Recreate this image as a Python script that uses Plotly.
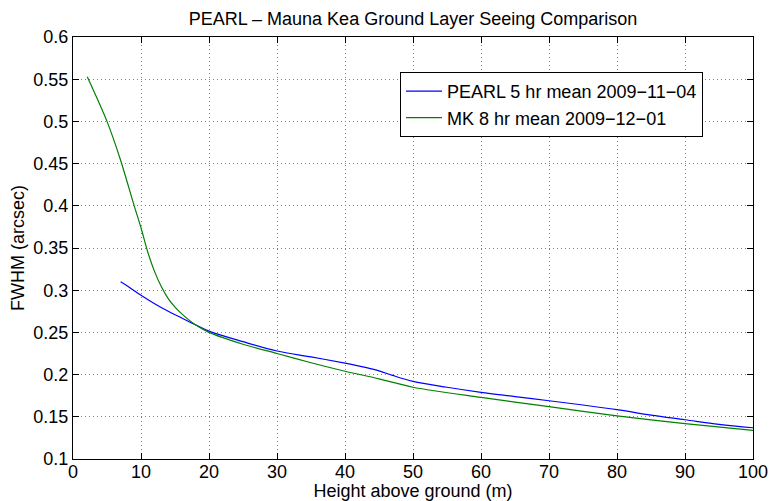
import plotly.graph_objects as go

# ---- data ----
pearl_x = [7, 8, 10, 12, 14, 16, 18, 20, 25, 30, 35, 40, 43, 45, 47, 50, 55, 60, 65, 70, 75, 80, 85, 90, 95, 100]
pearl_y = [0.310, 0.305, 0.294, 0.284, 0.275, 0.267, 0.259, 0.2515, 0.239, 0.228, 0.221, 0.2135, 0.2085, 0.2045,
           0.199, 0.192, 0.185, 0.179, 0.174, 0.169, 0.164, 0.1585, 0.152, 0.1465, 0.141, 0.137]

mk_x = [2.1, 3, 5, 7, 9, 10, 11, 12, 13, 14, 15, 16, 18, 20, 25, 30, 35, 40, 45, 50, 60, 70, 80, 90, 100]
mk_y = [0.553, 0.537, 0.500, 0.454, 0.400, 0.374, 0.345, 0.322, 0.304, 0.290, 0.280, 0.272, 0.259, 0.250,
        0.236, 0.225, 0.214, 0.204, 0.195, 0.185, 0.173, 0.162, 0.1512, 0.142, 0.134]

series_names = ["PEARL 5 hr mean 2009\u221211\u221204", "MK 8 hr mean 2009\u221212\u221201"]

x_ticks = [0, 10, 20, 30, 40, 50, 60, 70, 80, 90, 100]
x_tick_labels = ["0", "10", "20", "30", "40", "50", "60", "70", "80", "90", "100"]
y_ticks = [0.1, 0.15, 0.2, 0.25, 0.3, 0.35, 0.4, 0.45, 0.5, 0.55, 0.6]
y_tick_labels = ["0.1", "0.15", "0.2", "0.25", "0.3", "0.35", "0.4", "0.45", "0.5", "0.55", "0.6"]

FONT = "Liberation Sans, Arial, Helvetica, sans-serif"

fig = go.Figure()
fig.add_trace(go.Scatter(x=pearl_x, y=pearl_y, mode="lines", name=series_names[0],
                         line=dict(color="#0000ff", width=1.2, shape="spline", smoothing=1.0)))
fig.add_trace(go.Scatter(x=mk_x, y=mk_y, mode="lines", name=series_names[1],
                         line=dict(color="#008000", width=1.2, shape="spline", smoothing=0.8)))

axis_common = dict(
    showline=True, linecolor="black", linewidth=1, mirror="ticks",
    ticks="inside", ticklen=6, tickcolor="black", tickwidth=1,
    showgrid=True, gridcolor="#808080", griddash="1px,3px", gridwidth=1,
    zeroline=False, automargin=False,
    tickfont=dict(family=FONT, size=18, color="black"),
)

fig.update_layout(
    width=771, height=501,
    margin=dict(l=73, r=18, t=37, b=42, autoexpand=False),
    paper_bgcolor="white", plot_bgcolor="white",
    font=dict(family=FONT, size=18, color="black"),
    title=dict(text="PEARL \u2013 Mauna Kea Ground Layer Seeing Comparison",
               x=(73 + 753) / 2 / 771, xanchor="center",
               y=1 - 18.5 / 501, yanchor="middle", yref="container",
               font=dict(family=FONT, size=18, color="black")),
    xaxis=dict(range=[0, 100], tickvals=x_ticks, ticktext=x_tick_labels,
               title=dict(text="Height above ground (m)", standoff=0,
                          font=dict(family=FONT, size=18)),
               ticklabelstandoff=-4, **axis_common),
    yaxis=dict(range=[0.1, 0.6], tickvals=y_ticks, ticktext=y_tick_labels,
               title=dict(text="FWHM (arcsec)", standoff=4,
                          font=dict(family=FONT, size=18)),
               ticklabelstandoff=0, **axis_common),
    legend=dict(x=(400 - 73) / 680, y=(459 - 72) / 422, xanchor="left", yanchor="top",
                bgcolor="white", bordercolor="black", borderwidth=1,
                font=dict(family=FONT, size=18, color="black"),
                itemwidth=36, tracegroupgap=0),
    showlegend=True,
)

fig.write_html("out.html")
